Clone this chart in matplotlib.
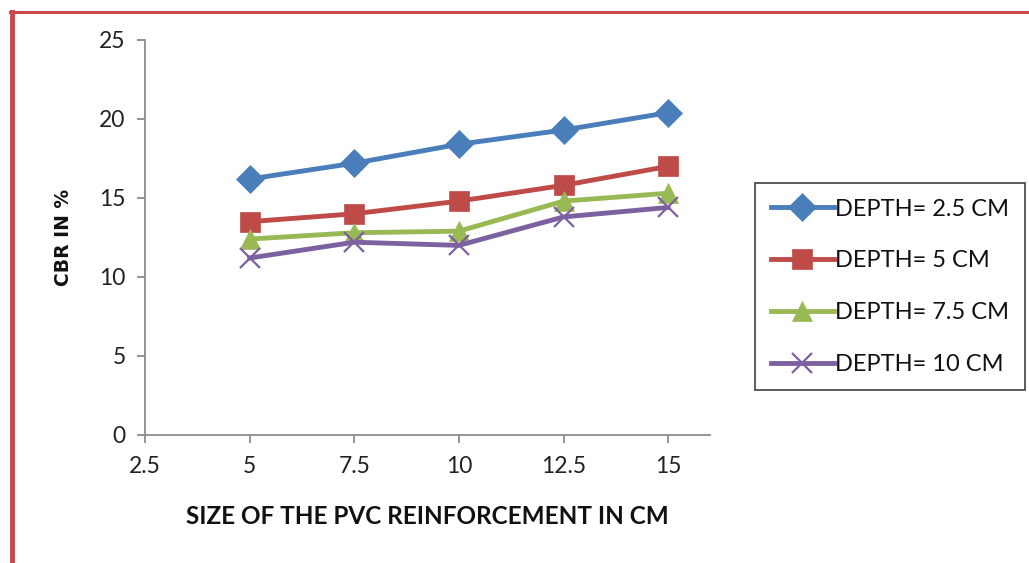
import matplotlib.pyplot as plt
from matplotlib.lines import Line2D

sizes = [5, 7.5, 10, 12.5, 15]
depth_labels = ["DEPTH= 2.5 CM", "DEPTH= 5 CM", "DEPTH= 7.5 CM", "DEPTH= 10 CM"]
cbr_25 = [16.2, 17.2, 18.4, 19.3, 20.4]
cbr_5 = [13.5, 14.0, 14.8, 15.8, 17.0]
cbr_75 = [12.4, 12.8, 12.9, 14.8, 15.3]
cbr_10 = [11.2, 12.2, 12.0, 13.8, 14.4]

x_ticks = [2.5, 5, 7.5, 10, 12.5, 15]
y_ticks = [0, 5, 10, 15, 20, 25]

colors = ["#4A7EBB", "#BE4B48", "#98B954", "#7D60A0"]
markers = ["D", "s", "^", "x"]
msizes = [14, 15, 15, 15]

plt.rcParams['font.family'] = ['Lato', 'DejaVu Sans']

fig = plt.figure(figsize=(10.29, 5.63), dpi=100)
ax = fig.add_axes([0.1409, 0.2274, 0.690 - 0.1409, 0.929 - 0.2274])

for vals, lab, c, m, ms in zip([cbr_25, cbr_5, cbr_75, cbr_10], depth_labels, colors, markers, msizes):
    ax.plot(sizes, vals, color=c, lw=3.5, marker=m, markersize=ms,
            markeredgewidth=1.6 if m == "x" else 0.5, markeredgecolor=c,
            label=lab, solid_joinstyle="round")

ax.set_xlim(2.5, 16)
ax.set_ylim(0, 25)
ax.set_xticks(x_ticks)
ax.set_xticklabels([f"{t:g}" for t in x_ticks])
ax.set_yticks(y_ticks)

for s in ["top", "right"]:
    ax.spines[s].set_visible(False)
for s in ["left", "bottom"]:
    ax.spines[s].set_color("#8c8c8c")
    ax.spines[s].set_linewidth(1.3)
ax.tick_params(axis="both", colors="#8c8c8c", length=6, width=1.3, labelsize=16.5, labelcolor="#222222")
ax.tick_params(axis="x", pad=9)
ax.tick_params(axis="y", pad=8)

ax.set_xlabel("SIZE OF THE PVC REINFORCEMENT IN CM", fontsize=17.5, fontweight="bold",
              color="#111111", labelpad=20)
ax.set_ylabel("CBR IN %", fontsize=13.5, fontweight="bold", color="#111111",
              family=["DejaVu Sans"], labelpad=19)

leg = ax.legend(loc="upper left", bbox_to_anchor=(1.08, 0.637), fontsize=17,
                frameon=True, fancybox=False, handlelength=2.7, handletextpad=0.05,
                labelspacing=1.3, borderpad=0.65, borderaxespad=0)
leg.get_frame().set_edgecolor("#222222")
leg.get_frame().set_linewidth(1.3)
for t in leg.get_texts():
    t.set_color("#111111")

# red frame on the left and top edges
fig.add_artist(Line2D([12 / 1029, 12 / 1029], [0, 1 - 12 / 563], transform=fig.transFigure,
                      color="#C8484B", lw=3.5))
fig.add_artist(Line2D([10 / 1029, 1], [1 - 12 / 563, 1 - 12 / 563], transform=fig.transFigure,
                      color="#C8484B", lw=2.2))

fig.savefig("out.png", dpi=100)
